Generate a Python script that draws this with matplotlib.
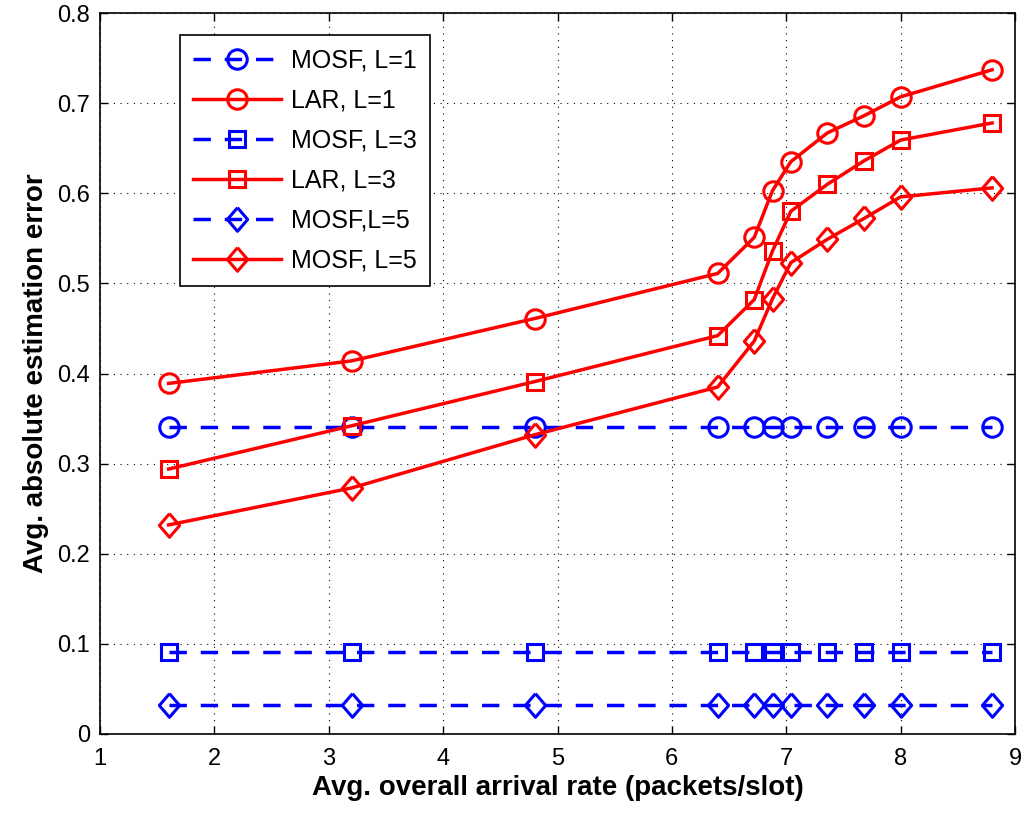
import numpy as np
import matplotlib
matplotlib.use("Agg")
import matplotlib.pyplot as plt

# --- DATA ---
rate = [1.6, 3.2, 4.8, 6.4, 6.72, 6.88, 7.04, 7.36, 7.68, 8.0, 8.8]

mosf_l1 = [0.341] * 11
lar_l1 = [0.389, 0.414, 0.461, 0.511, 0.551, 0.603, 0.635, 0.667, 0.686, 0.707, 0.737]
mosf_l3 = [0.091] * 11
lar_l3 = [0.294, 0.342, 0.391, 0.442, 0.482, 0.536, 0.580, 0.610, 0.636, 0.659, 0.678]
mosf_l5 = [0.032] * 11
lar_l5 = [0.232, 0.273, 0.332, 0.385, 0.436, 0.483, 0.523, 0.549, 0.572, 0.596, 0.606]

labels = ["MOSF, L=1", "LAR, L=1", "MOSF, L=3", "LAR, L=3", "MOSF,L=5", "MOSF, L=5"]
values = [mosf_l1, lar_l1, mosf_l3, lar_l3, mosf_l5, lar_l5]

# matlab-ish diamond, a bit taller than wide
diamond = [(0, 1), (0.86, 0), (0, -1), (-0.86, 0), (0, 1)]
styles = [
    ("blue", "--", "o", 14),
    ("red", "-", "o", 14),
    ("blue", "--", "s", 12),
    ("red", "-", "s", 12),
    ("blue", "--", diamond, 17),
    ("red", "-", diamond, 17),
]

plt.rcParams["font.family"] = ["Liberation Sans", "DejaVu Sans"]

# --- PLOT ---
fig = plt.figure(figsize=(10.26, 8.14), dpi=100)
ax = fig.add_axes([100 / 1026, 80 / 814, 915 / 1026, 721 / 814])

for label, vals, (col, ls, mk, ms) in zip(labels, values, styles):
    line, = ax.plot(rate, vals, color=col, linestyle=ls, linewidth=2.5, marker=mk,
                    markersize=ms, markerfacecolor="none", markeredgewidth=2.2,
                    label=label)
    if ls == "--":
        line.set_dashes((5, 4))

ax.set_xlim(1, 9)
ax.set_ylim(0, 0.8)
ax.set_xticks(np.arange(1, 10, 1))
ax.set_yticks(np.arange(0, 0.81, 0.1))
ax.set_yticklabels(["0", "0.1", "0.2", "0.3", "0.4", "0.5", "0.6", "0.7", "0.8"])
ax.tick_params(direction="in", length=6, labelsize=17, width=1, top=True, right=True)
ax.tick_params(axis="x", pad=10)
ax.tick_params(axis="y", pad=7)
ax.grid(True, color="black", linestyle=(0, (1, 5)), linewidth=0.8)
for sp in ax.spines.values():
    sp.set_linewidth(1.2)

ax.set_xlabel("Avg. overall arrival rate (packets/slot)", fontsize=20, fontweight="bold",
              labelpad=4)
ax.set_ylabel("Avg. absolute estimation error", fontsize=20, fontweight="bold", labelpad=6)

leg = ax.legend(loc="upper left", bbox_to_anchor=(0.087, 0.97), fontsize=18,
                frameon=True, fancybox=False, edgecolor="black", framealpha=1,
                handlelength=3.5, handletextpad=0.4, labelspacing=0.64,
                borderpad=0.55, borderaxespad=0)
leg.get_frame().set_linewidth(1.2)

fig.savefig("out.png", dpi=100)
